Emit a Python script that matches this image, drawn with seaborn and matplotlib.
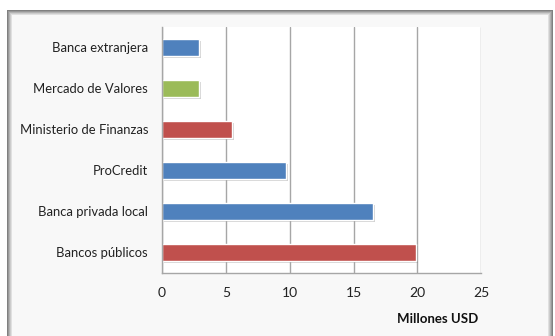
import numpy as np
import pandas as pd
import matplotlib
matplotlib.use("Agg")
import matplotlib.pyplot as plt
import matplotlib.patheffects as pe
from matplotlib.patches import Rectangle
import seaborn as sns

# data
categorias = ["Banca extranjera", "Mercado de Valores", "Ministerio de Finanzas",
              "ProCredit", "Banca privada local", "Bancos públicos"]
valores = [2.9, 2.9, 5.5, 9.7, 16.5, 19.9]
colores = ["#4F81BD", "#9BBB59", "#C0504D", "#4F81BD", "#4F81BD", "#C0504D"]
xticks = [0, 5, 10, 15, 20, 25]

df = pd.DataFrame({"categoria": categorias, "valor": valores})

sns.set_style("white")
plt.rcParams["font.family"] = ["Lato", "DejaVu Sans"]

W, H = 555, 336
fig = plt.figure(figsize=(W / 100, H / 100), dpi=100)
fig.patch.set_facecolor("white")

# outer frame with soft grey shadow edge
x0, y0 = 7, 10
for i, g in enumerate([0.5, 0.6, 0.7, 0.8, 0.88]):
    fig.patches.append(Rectangle(((x0 + i) / W, 0), (546 - 2 * i) / W, (H - y0 - i) / H,
                                 transform=fig.transFigure, facecolor=(g, g, g),
                                 edgecolor="none", zorder=-10 + i))
fig.patches.append(Rectangle(((x0 + 5) / W, 0), 536 / W, (H - y0 - 5) / H,
                             transform=fig.transFigure, facecolor="#f8f8f8",
                             edgecolor="none", zorder=-4))

ax = fig.add_axes([162 / W, 1 - 272.7 / H, 319.3 / W, 246 / H])
ax.set_facecolor("white")

sns.barplot(data=df, x="valor", y="categoria", hue="categoria", palette=colores,
            legend=False, width=0.42, ax=ax, saturation=1)
for p in ax.patches:
    p.set_path_effects([pe.SimplePatchShadow(offset=(1.5, -1.5), shadow_rgbFace="0.5", alpha=0.35),
                        pe.Normal()])

ax.set_xlim(0, 25)
ax.set_ylim(5.5, -0.5)
ax.set_xticks(xticks)
ax.set_xticklabels([str(t) for t in xticks], fontsize=10, color="#222222")
ax.xaxis.grid(True, color="#a6a6a6", lw=1)
ax.set_axisbelow(True)

ax.set_yticks(range(len(categorias)))
ax.set_yticklabels(categorias, fontsize=9.4, color="#222222")
ax.set_yticks(np.arange(-0.5, len(categorias)), minor=True)
ax.tick_params(axis="y", which="major", length=0, pad=10)
ax.tick_params(axis="y", which="minor", length=5, color="#a6a6a6", width=1)
ax.tick_params(axis="x", length=4, color="#a6a6a6", width=1, pad=6)

for s in ["top", "right"]:
    ax.spines[s].set_visible(False)
for s in ["left", "bottom"]:
    ax.spines[s].set_color("#a6a6a6")
    ax.spines[s].set_linewidth(1)

ax.set_ylabel("")
ax.set_xlabel("Millones USD", fontsize=9.5, fontweight="bold", color="#111111")
ax.xaxis.set_label_coords(0.862, -0.165)

fig.savefig("out.png", dpi=100)
